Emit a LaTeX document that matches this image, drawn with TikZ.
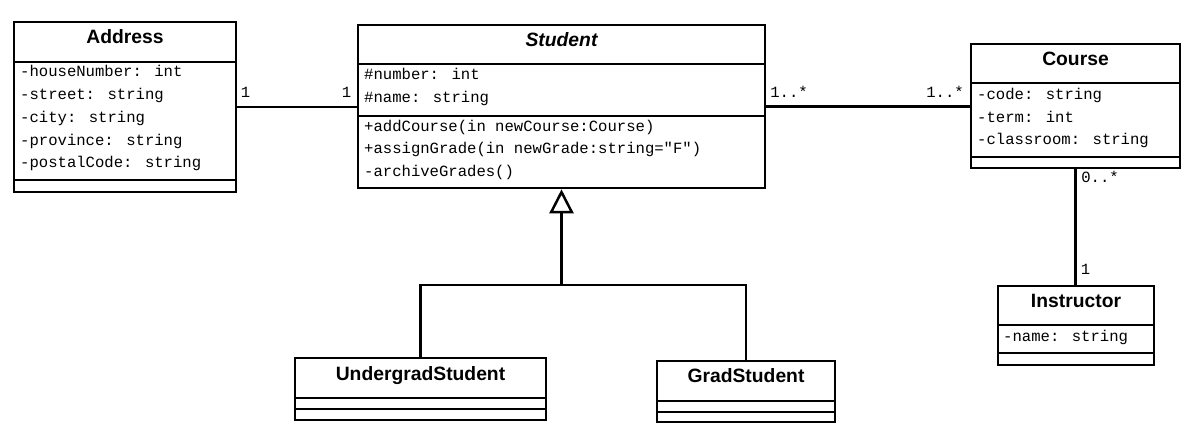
\documentclass[tikz,border=0pt]{standalone}
\usepackage{fontspec}
\setmainfont{Liberation Sans}
\newfontfamily\umlmono{Liberation Mono}
\usetikzlibrary{arrows.meta}
\tikzset{
  clsbox/.style={draw, line width=2.6pt, inner sep=0pt, fill=white},
  sepline/.style={line width=2.6pt},
  conn/.style={line width=2.5pt},
  clstitle/.style={inner sep=0pt, anchor=base, font=\fontsize{19.3}{23}\selectfont\bfseries},
  attr/.style={inner sep=0pt, anchor=base west, font=\umlmono\fontsize{15.6}{18}\selectfont},
  mult/.style={inner sep=0pt, anchor=base, font=\umlmono\fontsize{15.6}{18}\selectfont},
}
\newcommand\umlclass[7]{%
  \node[clsbox, minimum width={(#4)-(#2)}, minimum height={(#5)-(#3)}] (#1) at ({((#2)+(#4))/2},{((#3)+(#5))/2}) {};
  \draw[sepline] ({#2},{#6}) -- ({#4},{#6});
  \draw[sepline] ({#2},{#7}) -- ({#4},{#7});
}
\begin{document}
\begin{tikzpicture}[x=1pt, y=-1pt]
\useasboundingbox[fill=white] (0,0) rectangle (1188,438);

% classes
\umlclass{address}{14}{22}{236}{192}{62}{180}
\umlclass{student}{358}{25}{765}{188}{64}{116}
\umlclass{course}{971}{44}{1180}{168}{83}{157}
\umlclass{instructor}{998}{286}{1154}{365}{325}{353}
\umlclass{ugrad}{295}{358}{546}{420}{398}{409}
\umlclass{grad}{657}{361}{835}{422}{401}{412}

% titles
\node[clstitle] (address-t) at (125,43.5) {Address};
\node[clstitle, font=\fontsize{19.3}{23}\selectfont\bfseries\itshape] (student-t) at (561.5,46.5) {Student};
\node[clstitle] (course-t) at (1075.5,66) {Course};
\node[clstitle] (instructor-t) at (1076,307.5) {Instructor};
\node[clstitle] (ugrad-t) at (420.5,380) {UndergradStudent};
\node[clstitle] (grad-t) at (746,382.5) {GradStudent};

% Address attributes
\node[attr] (a1) at (20,77) {-houseNumber: int};
\node[attr] (a2) at (20,99.7) {-street: string};
\node[attr] (a3) at (20,122.4) {-city: string};
\node[attr] (a4) at (20,145.1) {-province: string};
\node[attr] (a5) at (20,167.8) {-postalCode: string};

% Student attributes and operations
\node[attr] (s1) at (364,79.7) {\#number: int};
\node[attr] (s2) at (364,102.4) {\#name: string};
\node[attr] (s3) at (364,131.4) {+addCourse(in newCourse:Course)};
\node[attr] (s4) at (364,153.9) {+assignGrade(in newGrade:string="F")};
\node[attr] (s5) at (364,176.4) {-archiveGrades()};

% Course attributes
\node[attr] (c1) at (977,99.7) {-code: string};
\node[attr] (c2) at (977,122.4) {-term: int};
\node[attr] (c3) at (977,144.9) {-classroom: string};

% Instructor attributes
\node[attr] (i1) at (1003,341.4) {-name: string};

% associations
\draw[conn] (address.east) -- (address.east -| student.west);
\draw[conn] (student.east) -- (student.east -| course.west);
\draw[conn] (course.south) -- (course.south |- instructor.north);

% multiplicities
\node[mult] (m1) at (245.5,97.8) {1};
\node[mult] (m2) at (346.5,97.8) {1};
\node[mult] (m3) at (789,97.7) {1..*};
\node[mult] (m4) at (945,97.7) {1..*};
\node[mult] (m5) at (1100,182.5) {0..*};
\node[mult] (m6) at (1085.5,274.5) {1};

% generalization
\coordinate (gj) at (561.5,285);
\draw[conn, -{Triangle[open, length=24pt, width=24pt, line width=2.5pt]}] (gj) -- (student.south);
\draw[conn] (ugrad.north) |- (gj) -| (grad.north);
\end{tikzpicture}
\end{document}
